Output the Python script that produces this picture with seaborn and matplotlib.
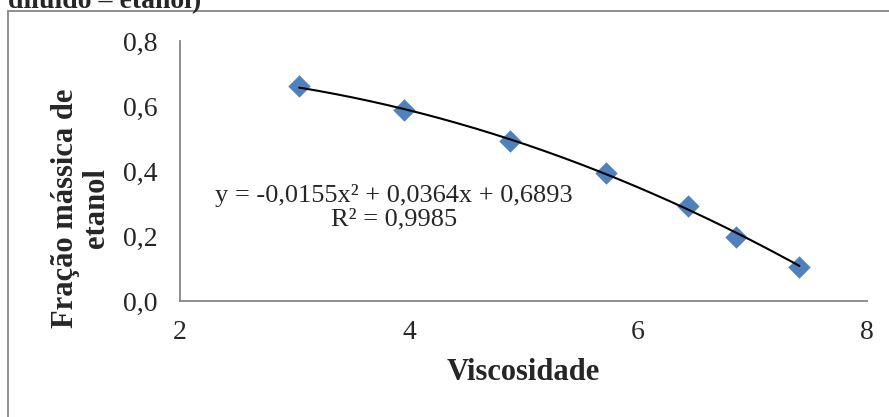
import numpy as np
import pandas as pd
import matplotlib
matplotlib.use("Agg")
import matplotlib.pyplot as plt
from matplotlib.patches import Rectangle
import seaborn as sns

# Measured data: viscosity vs. ethanol mass fraction
viscosidade = [3.04, 3.96, 4.88, 5.72, 6.44, 6.86, 7.41]
fracao_etanol = [0.662, 0.588, 0.492, 0.394, 0.292, 0.197, 0.105]

# Quadratic trend line coefficients (a x^2 + b x + c) and fit quality
coef_trend = [-0.0155, 0.0364, 0.6893]
r2 = 0.9985

x_ticks = [2, 4, 6, 8]
y_ticks = [0.0, 0.2, 0.4, 0.6, 0.8]

sns.set_style("white")
plt.rcParams["font.family"] = ["Liberation Serif", "DejaVu Serif"]

W, H = 889, 417
fig = plt.figure(figsize=(W / 100, H / 100), dpi=100)
ax = fig.add_axes([180 / W, 1 - 301 / H, (867 - 180) / W, (301 - 41) / H])

df = pd.DataFrame({"Viscosidade": viscosidade, "Fracao": fracao_etanol})

# Trend line evaluated from the stated equation over the data range
xs = np.linspace(min(viscosidade), max(viscosidade), 200)
ys = np.polyval(coef_trend, xs)
ax.plot(xs, ys, color="black", lw=1.5, zorder=3)

sns.scatterplot(data=df, x="Viscosidade", y="Fracao", marker="D", s=130,
                color="#4F81BD", linewidth=0, ax=ax, zorder=2)

ax.set_xlim(2, 8)
ax.set_ylim(0, 0.8)
ax.set_xticks(x_ticks)
ax.set_yticks(y_ticks)
ax.set_xticklabels([f"{v:g}" for v in x_ticks], fontsize=20)
ax.set_yticklabels([f"{v:.1f}".replace(".", ",") for v in y_ticks], fontsize=20)
ax.tick_params(axis="x", length=0, pad=14)
ax.tick_params(axis="y", length=0, pad=16)

for side in ["top", "right"]:
    ax.spines[side].set_visible(False)
for side in ["left", "bottom"]:
    ax.spines[side].set_color("#868686")
    ax.spines[side].set_linewidth(1.3)

ax.set_xlabel("Viscosidade", fontsize=22, fontweight="bold")
ax.xaxis.label.set_va("center")
ax.xaxis.set_label_coords(0.5, (301 - 373) / 260)

ax.set_ylabel("Fração mássica de\netanol", fontsize=22, fontweight="bold",
              linespacing=1.05)
ax.yaxis.label.set_rotation_mode("default")
ax.yaxis.label.set_va("center")
ax.yaxis.label.set_ha("center")
ax.yaxis.set_label_coords((81 - 180) / 687, (301 - 208) / 260)

a, b, c = coef_trend
eq = (f"y = {a:.4f}x² + {b:.4f}x + {c:.4f}".replace(".", ",")
      + "\n" + f"R² = {r2:.4f}".replace(".", ","))
ax.text((394 - 180) / 687, (301 - 207.5) / 260, eq, transform=ax.transAxes,
        ha="center", va="center", multialignment="center",
        fontsize=19, linespacing=1.1)

# Chart frame (extends past the right and bottom edges of the image)
fig.patches.append(Rectangle((8 / W, -0.1), 1.2, 1 - 11 / H + 0.1,
                             transform=fig.transFigure, fill=False,
                             edgecolor="#868686", lw=1.3))

# Caption line running above the chart
fig.text(8 / W, 1 - 8 / H, "diluído – etanol)", fontsize=20,
         fontweight="bold", ha="left", va="baseline")

fig.savefig("out.png", dpi=100)
